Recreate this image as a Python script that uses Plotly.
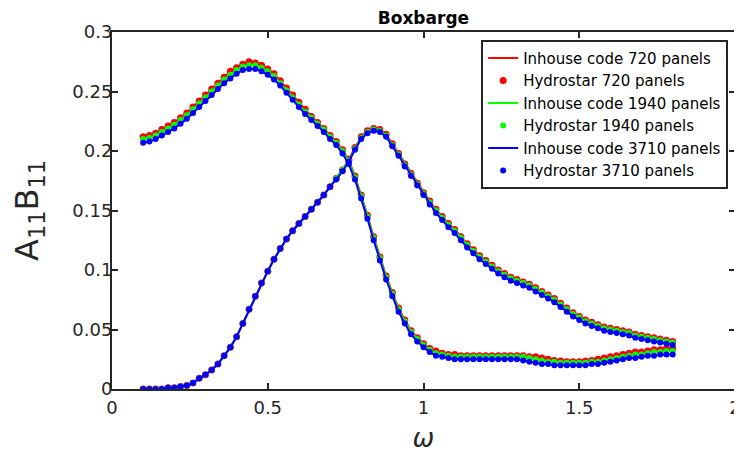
import plotly.graph_objects as go

omega = [round(0.10 + 0.02 * i, 2) for i in range(86)]

A_720 = [0.212,0.213,0.215,0.218,0.221,0.224,0.228,0.232,0.237,0.242,
         0.247,0.252,0.257,0.262,0.267,0.270,0.273,0.275,0.274,0.272,
         0.269,0.265,0.259,0.253,0.247,0.241,0.235,0.229,0.224,0.219,
         0.213,0.208,0.201,0.192,0.179,0.163,0.146,0.128,0.111,0.095,
         0.081,0.068,0.058,0.049,0.043,0.038,0.034,0.032,0.030,0.029,
         0.029,0.028,0.028,0.028,0.028,0.028,0.028,0.028,0.028,0.028,
         0.028,0.028,0.027,0.027,0.026,0.025,0.024,0.0235,0.023,0.023,
         0.023,0.0235,0.024,0.025,0.026,0.027,0.028,0.029,0.030,0.031,
         0.031,0.032,0.033,0.033,0.034,0.034]
A_1940 = [0.210,0.211,0.213,0.216,0.219,0.222,0.226,0.230,0.235,0.240,
          0.245,0.250,0.255,0.260,0.264,0.268,0.271,0.272,0.272,0.270,
          0.267,0.263,0.257,0.251,0.245,0.239,0.233,0.228,0.223,0.218,
          0.212,0.207,0.200,0.191,0.178,0.162,0.145,0.127,0.110,0.094,
          0.080,0.067,0.057,0.048,0.042,0.037,0.033,0.030,0.029,0.028,
          0.027,0.027,0.027,0.027,0.027,0.027,0.027,0.027,0.027,0.027,
          0.027,0.027,0.026,0.025,0.024,0.023,0.023,0.022,0.022,0.022,
          0.022,0.022,0.023,0.023,0.024,0.025,0.026,0.027,0.028,0.029,
          0.029,0.030,0.031,0.031,0.032,0.032]
A_3710 = [0.207,0.208,0.210,0.213,0.216,0.219,0.223,0.227,0.232,0.237,
          0.242,0.247,0.252,0.257,0.261,0.265,0.268,0.269,0.269,0.267,
          0.264,0.260,0.255,0.249,0.243,0.237,0.231,0.226,0.221,0.216,
          0.210,0.205,0.198,0.189,0.176,0.160,0.143,0.125,0.108,0.092,
          0.078,0.065,0.055,0.046,0.040,0.035,0.031,0.028,0.027,0.026,
          0.025,0.025,0.025,0.025,0.025,0.025,0.025,0.025,0.025,0.025,
          0.025,0.024,0.023,0.022,0.021,0.021,0.020,0.020,0.020,0.020,
          0.020,0.020,0.021,0.021,0.022,0.023,0.024,0.025,0.026,0.026,
          0.027,0.028,0.028,0.029,0.029,0.029]

B_720 = [0.000,0.000,0.000,0.000,0.001,0.001,0.002,0.003,0.005,0.009,
         0.012,0.016,0.021,0.028,0.035,0.044,0.055,0.067,0.078,0.089,
         0.099,0.109,0.118,0.126,0.133,0.139,0.145,0.151,0.157,0.163,
         0.170,0.177,0.184,0.193,0.203,0.212,0.217,0.219,0.218,0.214,
         0.206,0.198,0.189,0.181,0.173,0.165,0.158,0.151,0.145,0.139,
         0.134,0.128,0.122,0.117,0.112,0.108,0.104,0.100,0.097,0.094,
         0.092,0.090,0.088,0.085,0.082,0.079,0.076,0.072,0.068,0.064,
         0.061,0.058,0.056,0.054,0.052,0.051,0.050,0.049,0.048,0.046,
         0.045,0.044,0.043,0.042,0.041,0.040]
B_1940 = [0.000,0.000,0.000,0.000,0.001,0.001,0.002,0.003,0.005,0.009,
          0.012,0.016,0.021,0.028,0.035,0.044,0.055,0.067,0.078,0.089,
          0.099,0.109,0.118,0.126,0.133,0.139,0.145,0.151,0.157,0.163,
          0.170,0.177,0.184,0.192,0.202,0.211,0.216,0.218,0.217,0.213,
          0.205,0.197,0.188,0.180,0.172,0.164,0.157,0.150,0.144,0.138,
          0.133,0.127,0.121,0.116,0.111,0.107,0.103,0.099,0.096,0.093,
          0.091,0.089,0.087,0.084,0.081,0.078,0.075,0.071,0.067,0.063,
          0.060,0.057,0.055,0.053,0.051,0.050,0.049,0.048,0.047,0.045,
          0.044,0.043,0.042,0.041,0.040,0.039]
B_3710 = [0.000,0.000,0.000,0.000,0.001,0.001,0.002,0.003,0.005,0.009,
          0.012,0.016,0.021,0.028,0.035,0.044,0.055,0.067,0.078,0.089,
          0.099,0.109,0.118,0.126,0.133,0.139,0.145,0.151,0.157,0.163,
          0.170,0.176,0.183,0.191,0.201,0.210,0.215,0.217,0.216,0.212,
          0.204,0.196,0.187,0.179,0.171,0.163,0.155,0.148,0.142,0.136,
          0.131,0.125,0.119,0.114,0.109,0.105,0.101,0.097,0.094,0.091,
          0.089,0.087,0.085,0.082,0.079,0.076,0.073,0.069,0.065,0.061,
          0.058,0.055,0.053,0.051,0.049,0.048,0.047,0.046,0.045,0.043,
          0.042,0.041,0.040,0.039,0.038,0.037]

x_ticks = [0, 0.5, 1, 1.5, 2]
x_labels = ["0", "0.5", "1", "1.5", "2"]
y_ticks = [0, 0.05, 0.1, 0.15, 0.2, 0.25, 0.3]
y_labels = ["0", "0.05", "0.1", "0.15", "0.2", "0.25", "0.3"]

series = [
    ("720", A_720, B_720, "#ff0000", 7),
    ("1940", A_1940, B_1940, "#00ff00", 6),
    ("3710", A_3710, B_3710, "#0000ff", 6),
]

fig = go.Figure()
for name, A, B, col, msize in series:
    for k, y in enumerate([A, B]):
        fig.add_trace(go.Scatter(
            x=omega, y=y, mode="lines", line=dict(color=col, width=2),
            name=f"Inhouse code {name} panels", legendgroup=f"in{name}",
            showlegend=(k == 0)))
    for k, y in enumerate([A, B]):
        fig.add_trace(go.Scatter(
            x=omega, y=y, mode="markers",
            marker=dict(color=col, size=msize, symbol="circle", line=dict(width=0)),
            name=f"Hydrostar {name} panels", legendgroup=f"hs{name}",
            showlegend=(k == 0)))

axis_col = "#262626"
common = dict(showgrid=False, zeroline=False, showline=True, linecolor=axis_col,
              linewidth=2, mirror="ticks", ticks="inside", ticklen=6, tickwidth=1.5,
              tickcolor=axis_col, automargin=False,
              tickfont=dict(size=18, color=axis_col, family="DejaVu Sans"))

fig.update_xaxes(range=[0, 2], tickvals=x_ticks, ticktext=x_labels,
                 ticklabelstandoff=1,
                 title=dict(text="<i>ω</i>", font=dict(size=26, color=axis_col, family="DejaVu Sans"),
                            standoff=12),
                 **common)
fig.update_yaxes(range=[0, 0.3], tickvals=y_ticks, ticktext=y_labels,
                 ticklabelstandoff=-6,
                 title=dict(text="A<sub>11</sub>B<sub>11</sub>",
                            font=dict(size=32, color=axis_col, family="DejaVu Sans"),
                            standoff=26),
                 **common)

fig.update_layout(
    width=734, height=453,
    margin=dict(l=104, r=7, t=24, b=72),
    paper_bgcolor="white", plot_bgcolor="white",
    font=dict(family="DejaVu Sans", color="#000000"),
    title=dict(text="<b>Boxbarge</b>", x=0.566, xanchor="center", y=0.978, yanchor="middle",
               font=dict(size=17, color="#000000", family="DejaVu Sans")),
    legend=dict(x=0.989, y=0.978, xanchor="right", yanchor="top",
                bgcolor="white", bordercolor=axis_col, borderwidth=2,
                font=dict(size=15, color="#000000", family="DejaVu Sans"),
                itemwidth=30, tracegroupgap=0, traceorder="normal"),
    showlegend=True,
)

fig.write_html("out.html")
